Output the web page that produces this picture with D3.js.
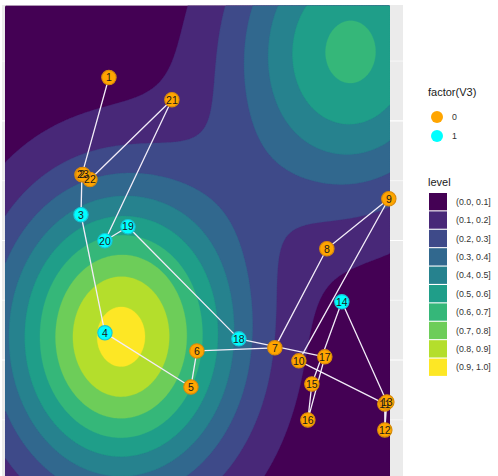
<!DOCTYPE html>
<html>
<head>
<meta charset="utf-8">
<script src="https://cdn.jsdelivr.net/npm/d3@7"></script>
<style>
  body { margin: 0; background: #ffffff; }
  svg { display: block; font-family: "Liberation Sans", Arial, sans-serif; }
</style>
</head>
<body>
<svg id="chart" width="498" height="476"></svg>
<script>
// ---- tour points: id, position, group ----
const pointIds = [1, 2, 3, 4, 5, 6, 7, 8, 9, 10, 11, 12, 13, 14, 15, 16, 17, 18, 19, 20, 21, 22, 23];
const pointX = [17.41, 12.89, 12.73, 16.74, 31.15, 32.15, 45.21, 53.92, 64.30, 49.23, 63.63, 63.63, 63.97,
                56.43, 51.41, 50.74, 53.58, 39.18, 20.60, 16.74, 27.96, 14.23, 13.06];
const pointY = [67.25, 51.00, 44.30, 24.55, 15.50, 21.53, 22.04, 38.61, 46.98, 19.86, 12.66, 8.31, 12.99,
                29.74, 16.00, 9.98, 20.53, 23.54, 42.30, 39.95, 63.54, 50.20, 51.05];
const pointGroup = ["0", "0", "1", "1", "0", "0", "0", "0", "0", "0", "0", "0", "0",
                    "1", "0", "0", "0", "1", "1", "1", "0", "0", "0"];

// ---- smooth surface: two bumps ----
const bumpX = [19.42, 57.94];
const bumpY = [23.87, 71.60];
const bumpHeight = [0.935, 0.625];
const bumpSdX = [14.4, 14.4];
const bumpSdY = [17.9, 17.9];

// ---- legends ----
const groupNames = ["0", "1"];
const groupColors = ["#FFA500", "#00FFFF"];
const groupEdge = ["#D98A0A", "#16C6D6"];
const levelBreaks = [0, 0.1, 0.2, 0.3, 0.4, 0.5, 0.6, 0.7, 0.8, 0.9];
const levelLabels = ["(0.0, 0.1]", "(0.1, 0.2]", "(0.2, 0.3]", "(0.3, 0.4]", "(0.4, 0.5]",
                     "(0.5, 0.6]", "(0.6, 0.7]", "(0.7, 0.8]", "(0.8, 0.9]", "(0.9, 1.0]"];
const levelColors = ["#440154", "#482878", "#3E4A89", "#31688E", "#26828E",
                     "#1F9E89", "#35B779", "#6DCD59", "#B4DE2C", "#FDE725"];
const yGridBreaks = [10, 20, 30, 40, 50, 60, 70];

// ---- layout ----
const svg = d3.select("#chart");
const panel = { left: 2, right: 403, top: 5, bottom: 476 };
const xDomain = [0, 64.5];
const yDomain = [-3, 79.3];
const x = d3.scaleLinear().domain(xDomain).range([5, 390]);
const y = d3.scaleLinear().domain([0, 79.3]).range([479.6, 5.5]);

// panel background + grid
svg.append("rect")
  .attr("x", panel.left).attr("y", panel.top)
  .attr("width", panel.right - panel.left).attr("height", panel.bottom - panel.top)
  .attr("fill", "#EBEBEB");
svg.append("g").selectAll("line").data(yGridBreaks).join("line")
  .attr("x1", panel.left).attr("x2", panel.right)
  .attr("y1", d => y(d)).attr("y2", d => y(d))
  .attr("stroke", "#ffffff")
  .attr("stroke-width", (d, i) => i % 2 ? 1.1 : 0.6);

// surface grid
const n = 220, m = 270;
const values = new Float64Array(n * m);
for (let j = 0; j < m; j++) {
  const yv = yDomain[1] - (j + 0.5) / m * (yDomain[1] - yDomain[0]);
  for (let i = 0; i < n; i++) {
    const xv = xDomain[0] + (i + 0.5) / n * (xDomain[1] - xDomain[0]);
    let z = 0;
    for (let k = 0; k < bumpX.length; k++) {
      const dx = (xv - bumpX[k]) / bumpSdX[k];
      const dy = (yv - bumpY[k]) / bumpSdY[k];
      z += bumpHeight[k] * Math.exp(-0.5 * (dx * dx + dy * dy));
    }
    values[j * n + i] = z;
  }
}
const contours = d3.contours().size([n, m]).thresholds(levelBreaks)(values);
const gridToPixel = d3.geoTransform({
  point(gx, gy) {
    this.stream.point(
      x(xDomain[0] + gx / n * (xDomain[1] - xDomain[0])),
      y(yDomain[1] - gy / m * (yDomain[1] - yDomain[0]))
    );
  }
});
const contourPath = d3.geoPath(gridToPixel);
const color = d3.scaleOrdinal().domain(levelBreaks).range(levelColors);

svg.append("clipPath").attr("id", "fillclip")
  .append("rect").attr("x", x(xDomain[0])).attr("y", y(yDomain[1]))
  .attr("width", x(xDomain[1]) - x(xDomain[0])).attr("height", 480);

svg.append("g").attr("clip-path", "url(#fillclip)")
  .selectAll("path").data(contours).join("path")
  .attr("d", contourPath)
  .attr("fill", d => color(d.value))
  .attr("stroke", d => color(d.value))
  .attr("stroke-width", 0.3);

// tour path
const pts = pointIds.map((id, i) => ({ id, x: pointX[i], y: pointY[i], g: pointGroup[i] }));
const line = d3.line().x(d => x(d.x)).y(d => y(d.y));
svg.append("path")
  .datum(pts)
  .attr("d", line)
  .attr("fill", "none")
  .attr("stroke", "#F2ECF8")
  .attr("stroke-width", 1.3)
  .attr("stroke-linejoin", "round");

const groupColor = d3.scaleOrdinal().domain(groupNames).range(groupColors);
const groupStroke = d3.scaleOrdinal().domain(groupNames).range(groupEdge);
svg.append("g").selectAll("circle").data(pts).join("circle")
  .attr("cx", d => x(d.x)).attr("cy", d => y(d.y)).attr("r", 7.2)
  .attr("fill", d => groupColor(d.g))
  .attr("stroke", d => groupStroke(d.g))
  .attr("stroke-width", 1.1);

svg.append("g").selectAll("text").data(pts).join("text")
  .attr("x", d => x(d.x)).attr("y", d => y(d.y))
  .attr("text-anchor", "middle").attr("dy", "0.36em")
  .attr("font-size", 10.5).attr("fill", "#1a1a1a")
  .text(d => d.id);

// ---- legend: group ----
const lg = svg.append("g").attr("transform", "translate(428,0)");
lg.append("text").attr("x", 0).attr("y", 96).attr("font-size", 11).attr("fill", "#1a1a1a").text("factor(V3)");
groupNames.forEach((g, i) => {
  const cy = 117 + i * 19;
  lg.append("circle").attr("cx", 9).attr("cy", cy).attr("r", 6).attr("fill", groupColors[i]);
  lg.append("text").attr("x", 24).attr("y", cy).attr("dy", "0.35em")
    .attr("font-size", 8.8).attr("fill", "#333").text(g);
});

// ---- legend: level ----
const ll = svg.append("g").attr("transform", "translate(428,0)");
ll.append("text").attr("x", 0).attr("y", 186).attr("font-size", 11).attr("fill", "#1a1a1a").text("level");
levelLabels.forEach((lab, i) => {
  const top = 193 + i * 18.4;
  ll.append("rect").attr("x", 1).attr("y", top).attr("width", 18).attr("height", 17.3)
    .attr("fill", levelColors[i]);
  ll.append("text").attr("x", 28).attr("y", top + 8.7).attr("dy", "0.35em")
    .attr("font-size", 8.8).attr("fill", "#333").text(lab);
});
</script>
</body>
</html>
